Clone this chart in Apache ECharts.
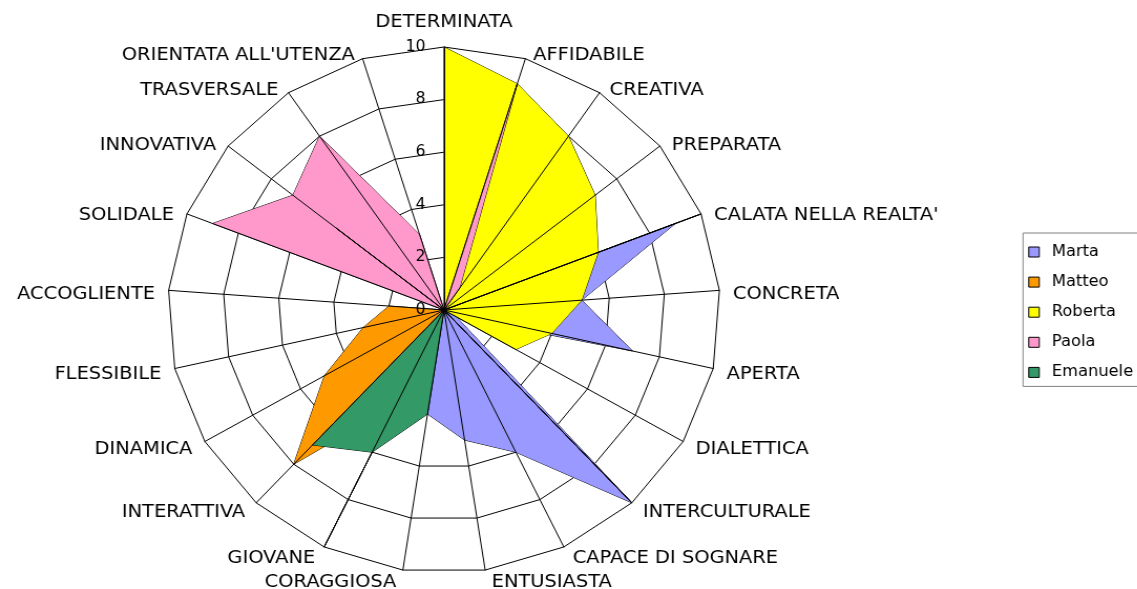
<!DOCTYPE html>
<html><head><meta charset="utf-8">
<script src="https://cdn.jsdelivr.net/npm/echarts@6/dist/echarts.min.js"></script>
<style>
html,body{margin:0;padding:0;background:#fff;overflow:hidden;}
#wrap{width:1137px;height:589px;overflow:hidden;position:relative;background:#fff;}
#chart{width:1083px;height:589px;transform:scaleX(1.05);transform-origin:0 0;}
</style></head><body>
<div id="wrap"><div id="chart"></div></div>
<script>
// Categories in clockwise order starting at the top
const categories = ["DETERMINATA","AFFIDABILE","CREATIVA","PREPARATA","CALATA NELLA REALTA'","CONCRETA","APERTA","DIALETTICA","INTERCULTURALE","CAPACE DI SOGNARE","ENTUSIASTA","CORAGGIOSA","GIOVANE","INTERATTIVA","DINAMICA","FLESSIBILE","ACCOGLIENTE","SOLIDALE","INNOVATIVA","TRASVERSALE","ORIENTATA ALL'UTENZA"];
const seriesNames = ["Marta","Matteo","Roberta","Paola","Emanuele"];
const marta    = [0,0,0,0,9,5,7,0.5,10,6,5,4,0,0,0,0,0,0,0,0,0];
const matteo   = [0,0,0,0,0,0,0,0,0,0,0,0,4,8,5,3,2,0,0,0,0];
const roberta  = [10,9,8,7,6,5,4,3,0,0,0,0,10,0,0,0,0,0,0,0,0];
const paola    = [0,9,1,0,0,0,0,0,0,0,0,0,0,0,0,0,0,9,7,8,3];
const emanuele = [0,0,0,0,10,0,0,0,10,0,0,4,6,7,0,0,0,0,5,0,0];
const tickValues = [0,2,4,6,8,10];
const seriesColors = ["#9999FF","#FF9900","#FFFF00","#FF99CC","#339966"];

const S = 1.05;           // horizontal stretch of the reference picture
const CX = 444 / S, CY = 310, R = 263;
const FONT = "DejaVu Sans";

// ECharts radar runs counter-clockwise; reorder so the picture runs clockwise
const order = categories.map((_, k) => (categories.length - k) % categories.length);
const values = [marta, matteo, roberta, paola, emanuele];

function makeIndicators(withLabels) {
  return order.map((idx, k) => {
    const o = { name: categories[idx], min: tickValues[0], max: tickValues[tickValues.length - 1] };
    if (withLabels && k === 0) {
      o.axisLabel = { show: true, color: "#000", fontSize: 15, fontFamily: FONT, margin: 17.5 };
    }
    return o;
  });
}

const base = {
  radius: R, startAngle: 90,
  splitNumber: tickValues.length - 1, shape: "polygon",
  splitArea: { show: false },
  axisTick: { show: false },
  axisLabel: { show: false }
};

const chart = echarts.init(document.getElementById("chart"), null, { renderer: "canvas" });
chart.setOption({
  animation: false,
  backgroundColor: "#fff",
  legend: {
    orient: "vertical",
    left: 1023 / S, top: 233,
    icon: "rect", itemWidth: 10, itemHeight: 10, itemGap: 14.1,
    padding: [11, 30, 6, 5],
    borderColor: "#808080", borderWidth: 1,
    textStyle: { fontSize: 15.5, fontFamily: FONT, color: "#000", padding: [0, 0, 0, 7] },
    data: seriesNames.map((n, i) => ({ name: n, itemStyle: { color: seriesColors[i], borderColor: "#000", borderWidth: 1 } }))
  },
  radar: [
    // 0: rings (beneath the filled areas); the series use this one
    Object.assign({}, base, {
      center: [CX, CY], z: 0,
      indicator: makeIndicators(false),
      axisName: { show: false },
      axisLine: { show: false },
      splitLine: { lineStyle: { color: "#000", width: 1 } }
    }),
    // 1: spokes and value labels, drawn over the filled areas
    Object.assign({}, base, {
      center: [CX, CY], z: 3,
      indicator: makeIndicators(true),
      axisName: { show: false },
      axisLine: { show: true, lineStyle: { color: "#000", width: 1 } },
      splitLine: { show: false }
    }),
    // 2: category names
    Object.assign({}, base, {
      center: [CX, CY + 4], z: 3,
      indicator: makeIndicators(false),
      axisName: { color: "#000", fontSize: 18.5, fontFamily: FONT, padding: [0, 5, 11, 5] },
      nameGap: 8,
      axisLine: { show: false },
      splitLine: { show: false }
    })
  ],
  series: seriesNames.map((n, i) => ({
    type: "radar", name: n, radarIndex: 0, symbol: "none", silent: true,
    lineStyle: { color: "#000", width: 1 },
    areaStyle: { color: seriesColors[i], opacity: 1 },
    itemStyle: { color: seriesColors[i] },
    data: [{ name: n, value: order.map(idx => values[i][idx]) }]
  }))
});
</script>
</body></html>
